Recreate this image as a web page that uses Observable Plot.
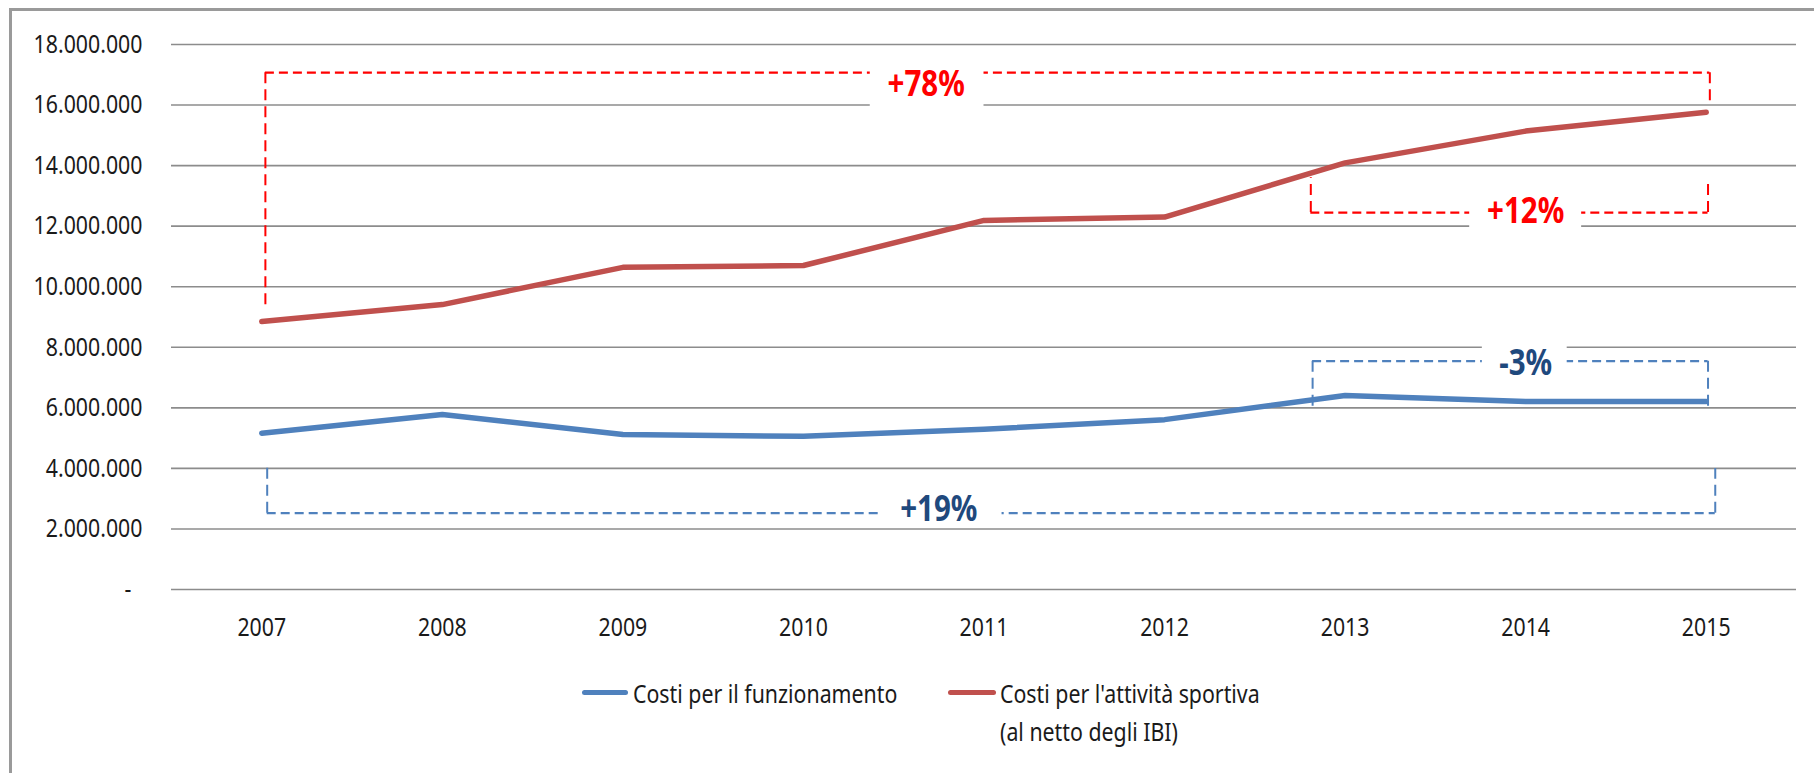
<!DOCTYPE html>
<html>
<head>
<meta charset="utf-8">
<script src="https://cdn.jsdelivr.net/npm/d3@7"></script>
<script src="https://cdn.jsdelivr.net/npm/@observablehq/plot@0.6"></script>
<style>
  html, body { margin: 0; padding: 0; background: #fff; width: 1814px; height: 773px; overflow: hidden; }
  body { position: relative; font-family: 'Noto Sans', 'Open Sans', sans-serif; }
  #frame { position: absolute; left: 9px; top: 8px; width: 2000px; height: 2000px; border-left: 3px solid #9a9a9a; border-top: 3px solid #9a9a9a; }
  #chart { position: absolute; left: 0; top: 0; }
  .leg { position: absolute; font-size: 26px; color: #1a1a1a; line-height: 38px; white-space: nowrap; transform: scaleX(0.82); transform-origin: 0 0; }
  .sw { position: absolute; height: 5px; border-radius: 3px; }
</style>
</head>
<body>
<div id="frame"></div>
<div id="chart"></div>
<div class="sw" id="sw1"></div><div class="leg" id="lg1"></div>
<div class="sw" id="sw2"></div><div class="leg" id="lg2"></div>
<script>
// ---- data ----
const years = [2007, 2008, 2009, 2010, 2011, 2012, 2013, 2014, 2015];
const costiFunzionamento = [5160000, 5780000, 5120000, 5060000, 5290000, 5610000, 6410000, 6210000, 6210000];
const costiSportiva = [8850000, 9410000, 10640000, 10700000, 12190000, 12300000, 14090000, 15140000, 15760000];
const yTicks = [0, 2000000, 4000000, 6000000, 8000000, 10000000, 12000000, 14000000, 16000000, 18000000];
const seriesNames = ["Costi per il funzionamento", "Costi per l'attività sportiva"];
const seriesNote = "(al netto degli IBI)";

// ---- annotations (brackets with % change) ----
const annLabels = ["+78%", "+12%", "-3%", "+19%"];
const annSeries = [1, 1, 0, 0];
const annX1 = [2007.02, 2012.81, 2012.82, 2007.03];
const annX2 = [2015.02, 2015.01, 2015.01, 2015.05];
const annY = [17070000, 12450000, 7540000, 2520000];
const annYLeftEnd = [9300000, 13600000, 6000000, 4040000];
const annYRightEnd = [15950000, 13500000, 6020000, 4000000];
const annLabelX = [2010.68, 2014.0, 2014.0, 2010.75];
const annLabelY = [16690000, 12500000, 7460000, 2630000];
const annBoxX1 = [2010.37, 2013.69, 2013.76, 2010.43];
const annBoxX2 = [2011.0, 2014.31, 2014.23, 2011.1];
const annBoxY1 = [15800000, 11830000, 7000000, 2100000];
const annBoxY2 = [17450000, 13000000, 8300000, 3250000];

// ---- styles ----
const lineColors = ["#4F81BD", "#C0504D"];
const dashColors = ["#4F81BD", "#FF0000"];
const labelColors = ["#1F497D", "#FF0000"];
const FONT = "'Noto Sans', 'Open Sans', sans-serif";
const TEXT_SQUEEZE = 0.82;

const rows = [];
years.forEach((y, i) => {
  rows.push({year: y, value: costiFunzionamento[i], s: 0});
  rows.push({year: y, value: costiSportiva[i], s: 1});
});
const anns = annLabels.map((label, i) => ({
  label, s: annSeries[i], x1: annX1[i], x2: annX2[i], y: annY[i],
  yl: annYLeftEnd[i], yr: annYRightEnd[i], lx: annLabelX[i], ly: annLabelY[i],
  bx1: annBoxX1[i], bx2: annBoxX2[i], by1: annBoxY1[i], by2: annBoxY2[i]
}));

const itLocale = d3.formatLocale({decimal: ",", thousands: ".", grouping: [3], currency: ["€", ""]});
const fmt = itLocale.format(",.0f");

const plot = Plot.plot({
  width: 1814,
  height: 660,
  marginLeft: 171,
  marginRight: 18,
  marginTop: 44,
  marginBottom: 71,
  style: {fontFamily: FONT, background: "transparent", overflow: "visible"},
  x: {type: "linear", domain: [2006.5, 2015.5]},
  y: {domain: [0, 18000000]},
  color: {type: "identity"},
  marks: [
    Plot.gridY(yTicks, {stroke: "#8c8c8c", strokeOpacity: 1, strokeWidth: 1.6}),
    Plot.axisY(yTicks, {tickSize: 0, tickPadding: 29, fontSize: 26, fill: "#1a1a1a", label: null,
      tickFormat: d => d === 0 ? "-\u00a0\u00a0" : fmt(d)}),
    Plot.axisX(years, {tickSize: 0, tickPadding: 28, fontSize: 26, fill: "#1a1a1a", label: null,
      tickFormat: d => String(d)}),
    // dashed brackets
    Plot.ruleY(anns, {y: "y", x1: "x1", x2: "x2", stroke: d => dashColors[d.s], strokeWidth: 2.2, strokeDasharray: "9,5"}),
    Plot.ruleX(anns, {x: "x1", y1: "y", y2: "yl", stroke: d => dashColors[d.s], strokeWidth: 2, strokeDasharray: "11,6"}),
    Plot.ruleX(anns, {x: "x2", y1: "y", y2: "yr", stroke: d => dashColors[d.s], strokeWidth: 2, strokeDasharray: "11,6"}),
    // white label boxes
    Plot.rect(anns, {x1: "bx1", x2: "bx2", y1: "by1", y2: "by2", fill: "white"}),
    // data lines
    Plot.line(rows, {x: "year", y: "value", z: "s", stroke: d => lineColors[d.s], strokeWidth: 5.5, strokeLinecap: "round", strokeLinejoin: "round"}),
    // labels
    Plot.text(anns, {x: "lx", y: "ly", text: "label", fill: d => labelColors[d.s], fontSize: 36, fontWeight: "bold",
      textAnchor: "middle", lineAnchor: "middle", fontFamily: FONT})
  ]
});
// narrow the glyphs horizontally (Calibri-like condensed look), around each text's anchor
plot.querySelectorAll("text").forEach(t => {
  const tr = t.getAttribute("transform") || "";
  if (tr) t.setAttribute("transform", tr + ` scale(${TEXT_SQUEEZE},1)`);
});
document.getElementById("chart").appendChild(plot);

// ---- legend (HTML below the plot area) ----
const sw1 = document.getElementById("sw1");
sw1.style.cssText += `left:582px; top:690px; width:46px; background:${lineColors[0]};`;
const lg1 = document.getElementById("lg1");
lg1.style.cssText += "left:633px; top:674px;";
lg1.textContent = seriesNames[0];
const sw2 = document.getElementById("sw2");
sw2.style.cssText += `left:948px; top:690px; width:48px; background:${lineColors[1]};`;
const lg2 = document.getElementById("lg2");
lg2.style.cssText += "left:1000px; top:674px;";
lg2.innerHTML = "";
lg2.appendChild(document.createTextNode(seriesNames[1]));
lg2.appendChild(document.createElement("br"));
lg2.appendChild(document.createTextNode(seriesNote));
</script>
</body>
</html>
